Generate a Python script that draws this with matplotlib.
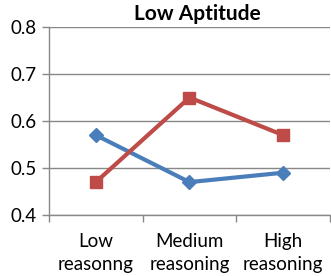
import matplotlib.pyplot as plt
from matplotlib.ticker import FixedLocator

categories = ["Low\nreasonng", "Medium\nreasoning", "High\nreasoning"]
blue_values = [0.57, 0.47, 0.49]
red_values = [0.47, 0.65, 0.57]
y_ticks = [0.4, 0.5, 0.6, 0.7, 0.8]

plt.rcParams['font.family'] = ['Lato', 'DejaVu Sans']

fig = plt.figure(figsize=(3.31, 2.76), dpi=100)
ax = fig.add_axes([0.148, 0.221, 0.849, 0.681])

x = list(range(len(categories)))
ax.plot(x, blue_values, color="#4A7EBB", lw=3, marker="D", ms=7, zorder=3)
ax.plot(x, red_values, color="#BE4B48", lw=3, marker="s", ms=8, zorder=3)

ax.set_xlim(-0.5, 2.5)
ax.set_ylim(0.4, 0.8)
ax.set_yticks(y_ticks)
ax.set_yticklabels([f"{v:.1f}" for v in y_ticks], fontsize=13.5)
ax.set_xticks(x)
ax.set_xticklabels(categories, fontsize=13.5, linespacing=1.45)
ax.xaxis.set_minor_locator(FixedLocator([-0.5, 0.5, 1.5, 2.5]))
ax.tick_params(axis="x", which="major", length=0, pad=13)
ax.tick_params(axis="x", which="minor", length=5, color="#888888", width=1)
ax.tick_params(axis="y", length=5, color="#888888", width=1, pad=4)

ax.grid(axis="y", color="#888888", lw=1)
ax.set_axisbelow(True)
for side in ["top", "right"]:
    ax.spines[side].set_visible(False)
for side in ["left", "bottom"]:
    ax.spines[side].set_color("#888888")
    ax.spines[side].set_linewidth(1)

ax.set_title("Low Aptitude", fontsize=15, fontweight="bold", x=0.527, pad=5)

fig.savefig("out.png", dpi=100)
